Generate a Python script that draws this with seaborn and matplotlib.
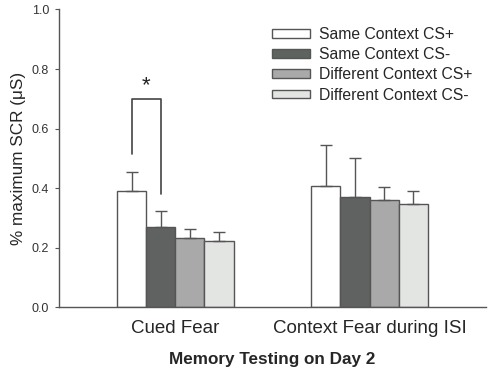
import pandas as pd
import numpy as np
import matplotlib
matplotlib.use("Agg")
from matplotlib import pyplot as plt
import seaborn as sns

tests = ["Cued Fear", "Context Fear during ISI"]
conditions = ["Same Context CS+", "Same Context CS-", "Different Context CS+", "Different Context CS-"]
means = {
    "Same Context CS+": [0.390, 0.407],
    "Same Context CS-": [0.269, 0.370],
    "Different Context CS+": [0.233, 0.361],
    "Different Context CS-": [0.221, 0.346],
}
sems = {
    "Same Context CS+": [0.065, 0.138],
    "Same Context CS-": [0.053, 0.132],
    "Different Context CS+": [0.028, 0.043],
    "Different Context CS-": [0.030, 0.044],
}
colors = ["#ffffff", "#5e6360", "#a9a9a9", "#e3e5e3"]

rows = []
for c in conditions:
    for i, t in enumerate(tests):
        rows.append({"test": t, "condition": c, "value": means[c][i], "sem": sems[c][i]})
df = pd.DataFrame(rows)

sns.set_style("white")
plt.rcParams['font.family'] = ['Liberation Sans', 'DejaVu Sans']

fig = plt.figure(figsize=(4.9, 3.8), dpi=100)
ax = fig.add_axes([0.12, 0.192, 0.872, 0.783])

sns.barplot(data=df, x="test", y="value", hue="condition", order=tests, hue_order=conditions,
            palette=colors, width=0.6, gap=0, errorbar=None, edgecolor="#555555",
            linewidth=1.0, ax=ax, legend=False)

# upward error bars
for patch, (_, r) in zip(ax.patches, df.iterrows()):
    xc = patch.get_x() + patch.get_width() / 2
    ax.errorbar(xc, r["value"], yerr=[[0], [r["sem"]]], fmt="none", ecolor="#555555",
                elinewidth=1.0, capsize=4.5, capthick=1.0, zorder=1)

# significance bracket
p = ax.patches
x1 = p[0].get_x() + p[0].get_width() / 2
x2 = p[2].get_x() + p[2].get_width() / 2
ax.plot([x1, x1, x2, x2], [0.514, 0.699, 0.699, 0.38], color="#444444", lw=1.2)
ax.text((x1 + x2) / 2, 0.71, "*", ha="center", va="bottom", fontsize=16, color="#222222")

ax.set_xlim(-0.6, 1.6)
ax.set_ylim(0, 1.0)
ax.set_yticks(np.arange(0, 1.01, 0.2))
ax.set_yticklabels([f"{v:.1f}" for v in np.arange(0, 1.01, 0.2)], fontsize=9, color="#333333")
ax.tick_params(axis="y", direction="out", length=3, width=0.8, color="#555555", left=True, pad=4)
ax.tick_params(axis="x", length=0, labelsize=13.5, pad=9)
sns.despine(ax=ax)
for s in ["left", "bottom"]:
    ax.spines[s].set_color("#555555")
    ax.spines[s].set_linewidth(1.0)

ax.set_ylabel("% maximum SCR (\u03bcS)", fontsize=12.3)
ax.set_xlabel("Memory Testing on Day 2", fontsize=12.3, fontweight="bold", labelpad=11)

handles = [plt.Rectangle((0, 0), 1, 1, facecolor=c, edgecolor="#555555", lw=1.0) for c in colors]
ax.legend(handles, conditions, loc="upper left", bbox_to_anchor=(0.474, 0.978), frameon=False,
          fontsize=11.3, handlelength=2.4, handleheight=0.5, labelspacing=0.33, handletextpad=0.55,
          borderaxespad=0.3)

fig.savefig("out.png", dpi=100)
